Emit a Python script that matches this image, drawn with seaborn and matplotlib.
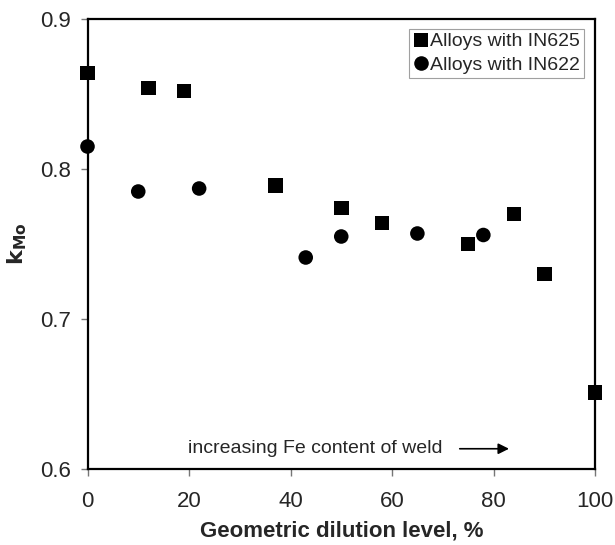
import matplotlib
matplotlib.use("Agg")
import matplotlib.pyplot as plt
import seaborn as sns
import pandas as pd

# Data
in625_x = [0, 12, 19, 37, 50, 58, 75, 84, 90, 100]
in625_y = [0.864, 0.854, 0.852, 0.789, 0.774, 0.764, 0.750, 0.770, 0.730, 0.651]
in622_x = [0, 10, 22, 43, 50, 65, 78]
in622_y = [0.815, 0.785, 0.787, 0.741, 0.755, 0.757, 0.756]
series_names = ["Alloys with IN625", "Alloys with IN622"]
x_ticks = [0, 20, 40, 60, 80, 100]
y_ticks = [0.6, 0.7, 0.8, 0.9]

df = pd.DataFrame({
    "x": in625_x + in622_x,
    "y": in625_y + in622_y,
    "series": [series_names[0]] * len(in625_x) + [series_names[1]] * len(in622_x),
})

sns.set_style("white")
plt.rcParams["font.family"] = ["Liberation Sans", "DejaVu Sans"]

fig = plt.figure(figsize=(6.15, 5.45), dpi=100)
ax = fig.add_axes([87.5 / 615, 1 - 469 / 545, (595 - 87.5) / 615, (469 - 19) / 545])

sns.scatterplot(data=df, x="x", y="y", hue="series", style="series",
                markers={series_names[0]: "s", series_names[1]: "o"},
                palette={series_names[0]: "black", series_names[1]: "black"},
                s=110, edgecolor="black", linewidth=0, ax=ax, clip_on=False, zorder=5)

ax.set_xlim(0, 100)
ax.set_ylim(0.6, 0.9)
ax.set_xticks(x_ticks)
ax.set_yticks(y_ticks)
ax.set_xticklabels([str(v) for v in x_ticks])
ax.set_yticklabels([f"{v:.1f}" for v in y_ticks])
ax.tick_params(axis="both", direction="out", length=5, width=1, color="#777777",
               labelsize=16, bottom=True, left=True)
ax.tick_params(axis="x", pad=11)
ax.tick_params(axis="y", pad=7)
for sp in ax.spines.values():
    sp.set_visible(True)
    sp.set_color("black")
    sp.set_linewidth(1.6)

ax.set_xlabel("Geometric dilution level, %", fontsize=16, fontweight="bold", labelpad=6)
ax.set_ylabel(r"$\mathbf{k_{Mo}}$", fontsize=16, fontweight="bold", labelpad=8)

ax.annotate("", xy=(83.6, 0.6135), xytext=(72.8, 0.6135),
            arrowprops=dict(arrowstyle="-|>", color="black", lw=1.2, mutation_scale=16))
ax.text(19.8, 0.6135, "increasing Fe content of weld", fontsize=14, va="center", ha="left")

leg = ax.legend(loc="upper right", bbox_to_anchor=(0.978, 0.978), fontsize=14,
                frameon=True, fancybox=False, handletextpad=0.0, handlelength=0.9,
                borderpad=0.2, labelspacing=0.3, borderaxespad=0)
leg.get_frame().set_edgecolor("#888888")
leg.get_frame().set_linewidth(0.8)
leg.set_title(None)

fig.savefig("out.png", dpi=100)
